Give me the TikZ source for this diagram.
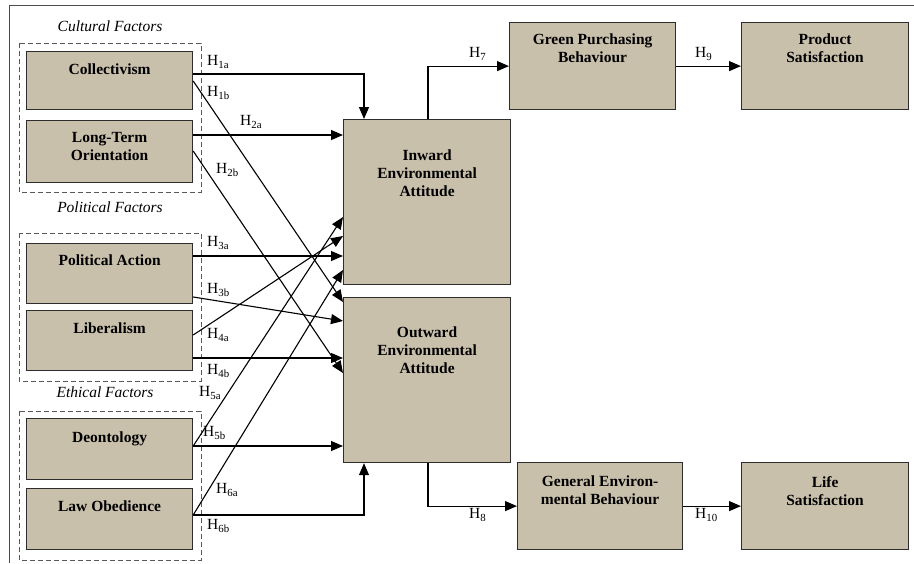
\documentclass[tikz,border=0pt]{standalone}
\usepackage{fontspec}
\setmainfont{Liberation Serif}
\usetikzlibrary{arrows.meta,positioning}
\definecolor{boxfill}{RGB}{201,192,172}
\definecolor{boxline}{RGB}{45,45,45}
\tikzset{
  fbox/.style={draw=boxline, fill=boxfill, line width=1.2pt, inner sep=0pt, anchor=north west},
  ftxt/.style={font=\bfseries\fontsize{15.5}{18}\selectfont, align=center, inner sep=0pt},
  grp/.style={draw=black!65, dash pattern=on 5pt off 3pt, line width=1pt},
  gname/.style={font=\itshape\fontsize{15.5}{18}\selectfont, inner sep=0pt},
  hyp/.style={font=\fontsize{15.5}{18}\selectfont, inner sep=0pt, anchor=west},
  link/.style={-{Triangle[length=12pt,width=10pt]}, line width=1.1pt},
}
\begin{document}
\begin{tikzpicture}[x=1pt, y=-1pt]
  \useasboundingbox (0,0) rectangle (914,563);
  \draw[line width=1pt, black!70] (9,563) -- (9,5) -- (914,5);

  % factor groups
  \draw[grp] (19,43) rectangle (201,192);
  \draw[grp] (19,233) rectangle (201,381);
  \draw[grp] (19,411) rectangle (201,560);
  \node[gname] (cultN) at (110,26) {Cultural Factors};
  \node[gname] (poliN) at (110,207) {Political Factors};
  \node[gname] (ethiN) at (105,392) {Ethical Factors};

  % antecedents
  \node[fbox, minimum width=166pt, minimum height=58pt] (coll) at (26,51) {};
  \node[ftxt, below=13pt of coll.north] (collT) {Collectivism};
  \node[fbox, minimum width=166pt, minimum height=62pt] (lto) at (26,120) {};
  \node[ftxt, below=12pt of lto.north] (ltoT) {Long-Term\\Orientation};
  \node[fbox, minimum width=166pt, minimum height=60pt] (pol) at (26,243) {};
  \node[ftxt, below=12pt of pol.north] (polT) {Political Action};
  \node[fbox, minimum width=166pt, minimum height=60pt] (lib) at (26,310) {};
  \node[ftxt, below=13pt of lib.north] (libT) {Liberalism};
  \node[fbox, minimum width=166pt, minimum height=61pt] (deo) at (26,418) {};
  \node[ftxt, below=14pt of deo.north] (deoT) {Deontology};
  \node[fbox, minimum width=166pt, minimum height=61pt] (law) at (26,488) {};
  \node[ftxt, below=13pt of law.north] (lawT) {Law Obedience};

  % attitudes
  \node[fbox, minimum width=167pt, minimum height=165pt] (inw) at (343,119) {};
  \node[ftxt, below=31pt of inw.north] (inwT) {Inward\\Environmental\\Attitude};
  \node[fbox, minimum width=167pt, minimum height=165pt] (outw) at (343,297) {};
  \node[ftxt, below=30pt of outw.north] (outwT) {Outward\\Environmental\\Attitude};

  % outcomes
  \node[fbox, minimum width=166pt, minimum height=87pt] (green) at (509,22) {};
  \node[ftxt, below=12pt of green.north] (greenT) {Green Purchasing\\Behaviour};
  \node[fbox, minimum width=167pt, minimum height=87pt] (prod) at (741,22) {};
  \node[ftxt, below=12pt of prod.north] (prodT) {Product\\Satisfaction};
  \node[fbox, minimum width=165pt, minimum height=87pt] (gen) at (517,462) {};
  \node[ftxt, below=14pt of gen.north] (genT) {General Environ-\\mental Behaviour};
  \node[fbox, minimum width=167pt, minimum height=87pt] (life) at (741,462) {};
  \node[ftxt, below=14pt of life.north] (lifeT) {Life\\Satisfaction};

  % hypotheses
  \draw[link] ([yshift=-23pt]coll.north east) -| ([xshift=21pt]inw.north west);
  \draw[link] ([yshift=-30pt]coll.north east) -- ([yshift=-5pt]outw.north west);
  \draw[link] ([yshift=-15pt]lto.north east) -- ([yshift=-16pt]inw.north west);
  \draw[link] ([yshift=-31pt]lto.north east) -- ([yshift=-76pt]outw.north west);
  \draw[link] ([yshift=-13pt]pol.north east) -- ([yshift=-137pt]inw.north west);
  \draw[link] ([yshift=-54pt]pol.north east) -- ([yshift=-24pt]outw.north west);
  \draw[link] ([yshift=-25pt]lib.north east) -- ([yshift=-117pt]inw.north west);
  \draw[link] ([yshift=-48pt]lib.north east) -- ([yshift=-61pt]outw.north west);
  \draw[link] ([yshift=-28pt]deo.north east) -- ([yshift=-98pt]inw.north west);
  \draw[link] ([yshift=-28pt]deo.north east) -- ([yshift=-149pt]outw.north west);
  \draw[link] ([yshift=-27pt]law.north east) -- ([yshift=-151pt]inw.north west);
  \draw[link] ([yshift=-27pt]law.north east) -| ([xshift=21pt]outw.south west);
  \draw[link] ([xshift=85pt]inw.north west) |- (green.west);
  \draw[link] (green.east) -- (prod.west);
  \draw[link] ([xshift=85pt]outw.south west) |- (gen.west);
  \draw[link] (gen.east) -- (life.west);

  \node[hyp] (h1a) at (207,62) {H\textsubscript{1a}};
  \node[hyp] (h1b) at (207,93) {H\textsubscript{1b}};
  \node[hyp] (h2a) at (240,122) {H\textsubscript{2a}};
  \node[hyp] (h2b) at (216,170) {H\textsubscript{2b}};
  \node[hyp] (h3a) at (207,243) {H\textsubscript{3a}};
  \node[hyp] (h3b) at (207,290) {H\textsubscript{3b}};
  \node[hyp] (h4a) at (207,335) {H\textsubscript{4a}};
  \node[hyp] (h4b) at (207,371) {H\textsubscript{4b}};
  \node[hyp] (h5a) at (199,393) {H\textsubscript{5a}};
  \node[hyp] (h5b) at (203,433) {H\textsubscript{5b}};
  \node[hyp] (h6a) at (216,490) {H\textsubscript{6a}};
  \node[hyp] (h6b) at (207,526) {H\textsubscript{6b}};
  \node[hyp] (h7) at (469,54) {H\textsubscript{7}};
  \node[hyp] (h9) at (695,54) {H\textsubscript{9}};
  \node[hyp] (h8) at (469,515) {H\textsubscript{8}};
  \node[hyp] (h10) at (695,515) {H\textsubscript{10}};
\end{tikzpicture}
\end{document}
